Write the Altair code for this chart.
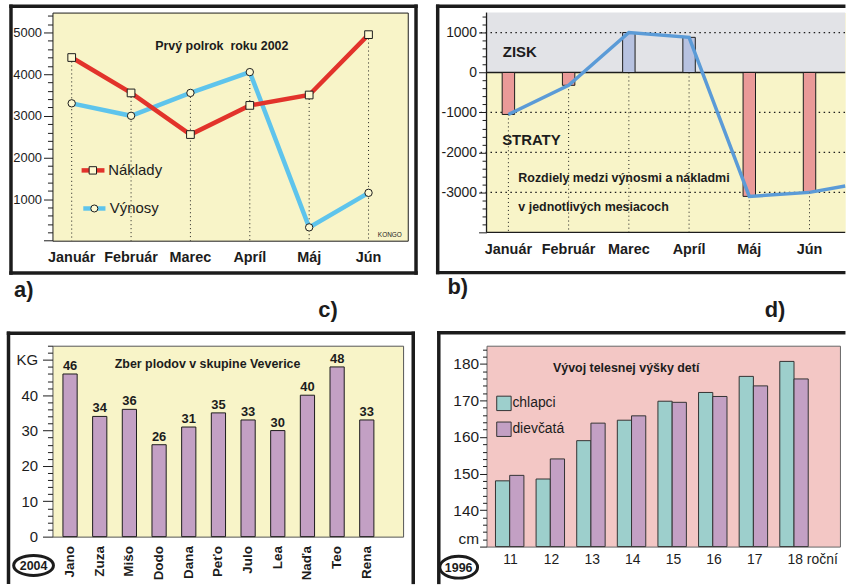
import altair as alt
import pandas as pd

# ---------------- a) náklady a výnosy, prvý polrok 2002
MESIACE = ["Január", "Február", "Marec", "Apríl", "Máj", "Jún"]
NAKLADY = [4400, 3550, 2550, 3250, 3500, 4950]
VYNOSY = [3300, 3000, 3550, 4050, 320, 1150]

# ---------------- b) rozdiely medzi výnosmi a nákladmi
ROZDIEL = [-1050, -320, 1000, 880, -3100, -3000]
ROZDIEL_OKRAJ = -2840        # where the line leaves the panel on the right
CIARY_B = [1000, -1000, -2000, -3000]

# ---------------- c) zber plodov v skupine Veverice (2004)
MENA = ["Jano", "Zuza", "Mišo", "Dodo", "Dana", "Peťo", "Julo", "Lea", "Naďa", "Teo", "Rena"]
KG = [46, 34, 36, 26, 31, 35, 33, 30, 40, 48, 33]

# ---------------- d) vývoj telesnej výšky detí (1996)
VEK = ["11", "12", "13", "14", "15", "16", "17", "18"]
SKUPINY = ["chlapci", "dievčatá"]
CHLAPCI = [148, 148.5, 159, 164.6, 169.8, 172.2, 176.6, 180.7]
DIEVCATA = [149.5, 154, 163.8, 165.8, 169.5, 171.1, 174, 175.9]

# ---------------- styling
FONT = "Liberation Sans, Arial, Helvetica, sans-serif"
INK = "#1c1c1c"
YELLOW = "#f8f4c8"
GRAY_B = "#e2e3e7"
PINK_BG = "#f3c7c5"
RED = "#e2332b"
CYAN = "#5ec4ec"
LINE_B = "#5b9bd7"
BAR_NEG = "#ea9a98"
BAR_POS = "#b7c2e0"
PURPLE = "#c3a0c4"
TEAL = "#9dcfcc"
CREAM = "#fdf9d2"
FRAME_W = 3.5

ONE = pd.DataFrame({"i": [0]})
deco = alt.Chart(ONE)


def point_range(first, last, n):
    """Pixel range of a point scale (default half-step padding) whose
    first and last categories land on `first` and `last`."""
    half = (last - first) / (n - 1) / 2
    return [first - half, last + half]


def y_axis(values, label_expr, test, major, minor, pad, size, **kw):
    return alt.Axis(
        title=None, values=values, labelExpr=label_expr, labelOverlap=False,
        grid=False, domain=False, tickColor=INK, tickWidth=1,
        tickSize={"condition": {"test": test, "value": major}, "value": minor},
        labelFont=FONT, labelFontSize=size, labelColor=INK, labelPadding=pad, **kw
    )


def label(text, x, y, size, weight="bold", align="left", baseline="alphabetic"):
    return deco.mark_text(
        text=text, font=FONT, fontSize=size, fontWeight=weight, color=INK,
        align=align, baseline=baseline,
    ).encode(x=alt.value(x), y=alt.value(y))


def hrule(x, x2, y, width=FRAME_W, color=INK, cap="square"):
    return deco.mark_rule(color=color, strokeWidth=width, strokeCap=cap).encode(
        x=alt.value(x), x2=alt.value(x2), y=alt.value(y))


def vrule(x, y, y2, width=FRAME_W, color=INK, cap="square"):
    return deco.mark_rule(color=color, strokeWidth=width, strokeCap=cap).encode(
        x=alt.value(x), y=alt.value(y), y2=alt.value(y2))


def oval(x, y, w, ratio, text):
    path = f"M-1,0 A1,{ratio} 0 1,1 1,0 A1,{ratio} 0 1,1 -1,0 Z"
    ring = deco.mark_point(shape=path, size=w * w, filled=False, stroke=INK,
                           strokeWidth=3, opacity=1).encode(x=alt.value(x), y=alt.value(y))
    return [ring, label(text, x, y + 0.5, 12.5, align="center", baseline="middle")]


# ======================= panel a =======================
WA, HA = 357.3, 229.4
a_df = pd.DataFrame({"mesiac": MESIACE, "naklady": NAKLADY, "vynosy": VYNOSY})
a_df["vrch"] = a_df[["naklady", "vynosy"]].max(axis=1)

xa = alt.X("mesiac:N",
           scale=alt.Scale(domain=MESIACE, range=point_range(19.35, 317.85, 6)),
           axis=alt.Axis(title=None, ticks=False, domain=False, labelAngle=0,
                         labelFont=FONT, labelFontSize=14.5, labelFontWeight="bold",
                         labelColor=INK, labelPadding=10))
ya_scale = alt.Scale(domain=[0, 5480], nice=False, zero=False)
ya_axis = y_axis(list(range(0, 5401, 200)),
                 "datum.value % 1000 === 0 && datum.value > 0 ? '' + datum.value : ''",
                 "datum.value % 1000 === 0", 9, 5, 2, 13)

base_a = alt.Chart(a_df)
a_layers = [
    base_a.mark_rule(color=INK, strokeWidth=1, strokeDash=[1, 3]).encode(
        x=xa, y=alt.Y("vrch:Q", scale=ya_scale, axis=ya_axis), y2=alt.datum(0)),
    base_a.mark_line(color=CYAN, strokeWidth=4.5).encode(
        x=xa, y=alt.Y("vynosy:Q", scale=ya_scale, axis=ya_axis)),
    base_a.mark_line(color=RED, strokeWidth=4.5).encode(
        x=xa, y=alt.Y("naklady:Q", scale=ya_scale, axis=ya_axis)),
    base_a.mark_point(shape="circle", filled=True, fill=CREAM, stroke=INK, strokeWidth=1,
                      size=55, opacity=1).encode(
        x=xa, y=alt.Y("vynosy:Q", scale=ya_scale, axis=ya_axis)),
    base_a.mark_point(shape="square", filled=True, fill=CREAM, stroke=INK, strokeWidth=1,
                      size=60, opacity=1).encode(
        x=xa, y=alt.Y("naklady:Q", scale=ya_scale, axis=ya_axis)),
    # legend
    hrule(29.3, 52.3, 158.7, width=4.5, color=RED, cap="butt"),
    deco.mark_point(shape="square", filled=True, fill=CREAM, stroke=INK, strokeWidth=1,
                    size=55, opacity=1).encode(x=alt.value(40.6), y=alt.value(158.7)),
    label("Náklady", 56.1, 158.7, 15, weight="normal", baseline="middle"),
    hrule(31, 53.3, 197, width=4.5, color=CYAN, cap="butt"),
    deco.mark_point(shape="circle", filled=True, fill=CREAM, stroke=INK, strokeWidth=1,
                    size=50, opacity=1).encode(x=alt.value(42.1), y=alt.value(197)),
    label("Výnosy", 57.6, 197, 15, weight="normal", baseline="middle"),
    # titles
    label("Prvý polrok\u00a0 roku 2002", 170.3, 38, 12.5, align="center"),
    label("KONGO", 339.3, 225.3, 6.5, weight="normal", align="center"),
    # frame and panel letters
    vrule(-41.7, -6.3, 262),
    vrule(365.6, -6.3, 262),
    hrule(-41.7, 365.6, -6.3),
    hrule(-41.7, 365.6, 262),
    label("a)", -38.7, 286.4, 22),
    label("c)", 267.3, 306.4, 22),
]
panel_a = alt.layer(*a_layers).properties(
    width=WA, height=HA, view=alt.ViewBackground(fill=YELLOW, stroke=INK, strokeWidth=1))

# ======================= panel b =======================
WB, HB = 360.7, 221
b_df = pd.DataFrame({"mesiac": MESIACE, "rozdiel": ROZDIEL})
b_df["dno"] = b_df["rozdiel"].clip(upper=0)
b_grid = pd.DataFrame({"uroven": CIARY_B})

xb = alt.X("mesiac:N",
           scale=alt.Scale(domain=MESIACE, range=point_range(22, 324.8, 6)),
           axis=alt.Axis(title=None, ticks=False, domain=False, labelAngle=0,
                         labelFont=FONT, labelFontSize=14.5, labelFontWeight="bold",
                         labelColor=INK, labelPadding=10))
yb_scale = alt.Scale(domain=[-4000, 1500], nice=False, zero=False)
yb_axis = y_axis(list(range(-4000, 1401, 200)),
                 "datum.value % 1000 === 0 && datum.value > -4000 ? '' + datum.value : ''",
                 "datum.value % 1000 === 0", 8, 4.5, 2, 14)
base_b = alt.Chart(b_df)

b_layers = [
    deco.mark_rect(color=GRAY_B).encode(
        x=alt.value(0), x2=alt.value(WB),
        y=alt.Y(datum=1500, scale=yb_scale, axis=yb_axis), y2=alt.datum(0)),
    alt.Chart(b_grid).mark_rule(color=INK, strokeWidth=1.2, strokeDash=[1.5, 3.5]).encode(
        x=alt.value(-6), x2=alt.value(WB), y=alt.Y("uroven:Q", scale=yb_scale, axis=yb_axis)),
    base_b.mark_rule(color=INK, strokeWidth=1, strokeDash=[1, 3]).encode(
        x=xb, y=alt.Y("dno:Q", scale=yb_scale, axis=yb_axis), y2=alt.datum(-4000)),
    deco.mark_rule(color=INK, strokeWidth=1.3).encode(
        x=alt.value(0), x2=alt.value(WB), y=alt.Y(datum=0, scale=yb_scale, axis=yb_axis)),
    base_b.mark_bar(size=12.5, stroke=INK, strokeWidth=1).encode(
        x=xb, y=alt.Y("rozdiel:Q", scale=yb_scale, axis=yb_axis), y2=alt.datum(0),
        color=alt.condition("datum.rozdiel > 0", alt.value(BAR_POS), alt.value(BAR_NEG))),
    base_b.mark_line(color=LINE_B, strokeWidth=3.5).encode(
        x=xb, y=alt.Y("rozdiel:Q", scale=yb_scale, axis=yb_axis)),
    # the line carries on from June to the right edge of the panel
    base_b.transform_filter(alt.datum.mesiac == MESIACE[-1]).mark_rule(
        color=LINE_B, strokeWidth=3.5).encode(
        x=xb, x2=alt.value(WB),
        y=alt.Y("rozdiel:Q", scale=yb_scale, axis=yb_axis), y2=alt.datum(ROZDIEL_OKRAJ)),
    vrule(0, 0, HB, width=1.3, cap="butt"),
    hrule(0, WB, HB, width=1.3, cap="butt"),
    label("ZISK", 16.4, 44.5, 15),
    label("STRATY", 15.7, 133, 15),
    label("Rozdiely medzi výnosmi a nákladmi", 32, 170.5, 12.5),
    label("v jednotlivých mesiacoch", 32, 199.5, 12.5),
    # frame (runs off the right edge) and panel letters
    vrule(-49.1, -6.3, 261.5),
    hrule(-49.1, WB - 1.5, -6.3),
    hrule(-49.1, WB - 1.5, 261.5),
    label("b)", -39.3, 283.4, 22),
    label("d)", 279.7, 306.4, 22),
]
panel_b = alt.layer(*b_layers).properties(
    width=WB, height=HB, view=alt.ViewBackground(fill=YELLOW, strokeOpacity=0))

# ======================= panel c =======================
WC, HC = 352.6, 192
c_df = pd.DataFrame({"meno": MENA, "kg": KG})
xc = alt.X("meno:N",
           scale=alt.Scale(domain=MENA, range=point_range(17.7, 316.1, len(MENA))),
           axis=alt.Axis(title=None, ticks=False, domain=False, labelAngle=270,
                         labelFont=FONT, labelFontSize=13.5, labelFontWeight="bold",
                         labelColor=INK, labelPadding=9))
yc_scale = alt.Scale(domain=[0, 54], nice=False)
yc_axis = y_axis(list(range(0, 55, 2)),
                 "datum.value === 50 ? 'KG' : (datum.value % 10 === 0 ? '' + datum.value : '')",
                 "datum.value % 10 === 0", 10, 5, 5, 15)

base_c = alt.Chart(c_df)
c_layers = [
    base_c.mark_bar(size=14.3, color=PURPLE, stroke=INK, strokeWidth=1).encode(
        x=xc, y=alt.Y("kg:Q", scale=yc_scale, axis=yc_axis)),
    base_c.mark_text(font=FONT, fontSize=13, fontWeight="bold", color=INK,
                     baseline="alphabetic", dy=-4).encode(
        x=xc, y=alt.Y("kg:Q", scale=yc_scale, axis=yc_axis), text="kg:Q"),
    label("Zber plodov v skupine Veverice", 156, 22, 12.5, align="center"),
    *oval(-19, 221, 40, 0.5, "2004"),
    vrule(-44.2, -12.5, 238),
    hrule(-44.2, 362.8, -12.5),
    vrule(362.8, -12.5, 238),
]
panel_c = alt.layer(*c_layers).properties(
    width=WC, height=HC, view=alt.ViewBackground(fill=YELLOW, stroke="#555", strokeWidth=1))

# ======================= panel d =======================
WD, HD = 355.4, 202
d_df = pd.DataFrame({
    "vek": VEK * 2,
    "skupina": [SKUPINY[0]] * len(VEK) + [SKUPINY[1]] * len(VEK),
    "vyska": CHLAPCI + DIEVCATA,
})
xd = alt.X("vek:N",
           scale=alt.Scale(domain=VEK, range=point_range(23.3, 309.2, len(VEK))),
           axis=alt.Axis(title=None, ticks=False, domain=False, labelAngle=0,
                         labelExpr="datum.value === '18' ? '18 roční' : datum.label",
                         labelAlign="left", labelOffset=-6.5,
                         labelFont=FONT, labelFontSize=14, labelColor=INK, labelPadding=6))
yd_scale = alt.Scale(domain=[130, 185], nice=False, zero=False)
yd_axis = y_axis(list(range(130, 185, 2)),
                 "datum.value === 130 ? 'cm' : (datum.value % 10 === 0 ? '' + datum.value : '')",
                 "datum.value % 10 === 0", 7, 4, 1, 15.5,
                 labelBaseline={"condition": {"test": "datum.value === 130", "value": "bottom"},
                                "value": "middle"})
farba = alt.Color("skupina:N", scale=alt.Scale(domain=SKUPINY, range=[TEAL, PURPLE]),
                  legend=None)

base_d = alt.Chart(d_df)
d_layers = [
    base_d.transform_filter(alt.datum.skupina == SKUPINY[0]).mark_bar(
        size=14.3, xOffset=-7.15, stroke="#333", strokeWidth=1).encode(
        x=xd, y=alt.Y("vyska:Q", scale=yd_scale, axis=yd_axis), y2=alt.datum(130), color=farba),
    base_d.transform_filter(alt.datum.skupina == SKUPINY[1]).mark_bar(
        size=14.3, xOffset=7.15, stroke="#333", strokeWidth=1).encode(
        x=xd, y=alt.Y("vyska:Q", scale=yd_scale, axis=yd_axis), y2=alt.datum(130), color=farba),
    # legend
    deco.mark_point(shape="square", filled=True, fill=TEAL, stroke="#333", strokeWidth=1,
                    size=210, opacity=1).encode(x=alt.value(17.5), y=alt.value(58)),
    label(SKUPINY[0], 26, 58, 14, weight="normal", baseline="middle"),
    deco.mark_point(shape="square", filled=True, fill=PURPLE, stroke="#333", strokeWidth=1,
                    size=210, opacity=1).encode(x=alt.value(17.5), y=alt.value(84)),
    label(SKUPINY[1], 26, 84, 14, weight="normal", baseline="middle"),
    label("Vývoj telesnej výšky detí", 140.4, 26, 12.5, align="center"),
    *oval(-28, 222.7, 38, 0.58, "1996"),
    vrule(-48, -13, 238),
    hrule(-48, WD + 3.8, -13),
]
panel_d = alt.layer(*d_layers).properties(
    width=WD, height=HD, view=alt.ViewBackground(fill=PINK_BG, stroke="#666", strokeWidth=1))

chart = alt.concat(
    panel_a, panel_b, panel_c, panel_d, columns=2,
    spacing={"row": 8, "column": 13.5},
).properties(
    padding={"left": 4.75, "top": 1, "right": 0, "bottom": 0},
    background="white",
)

chart.save("out.html", embed_options={"renderer": "svg", "actions": False})
